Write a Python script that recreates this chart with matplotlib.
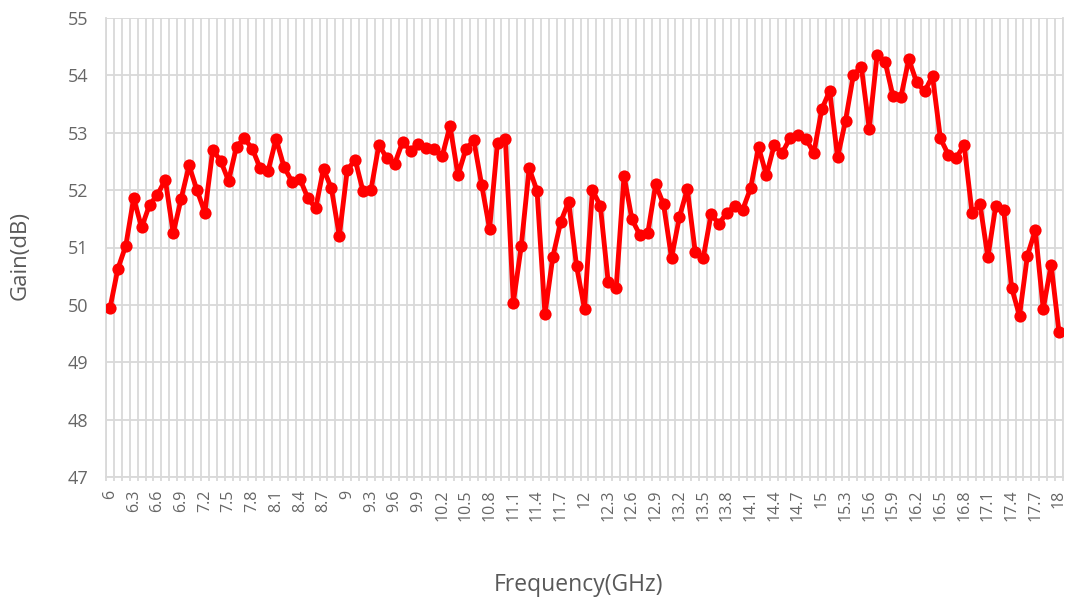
import numpy as np
import matplotlib
matplotlib.use("Agg")
import matplotlib.pyplot as plt

freqs = [round(6.0 + 0.1 * k, 1) for k in range(121)]
gains = [
    49.94, 50.63, 51.03, 51.86, 51.35, 51.74, 51.92, 52.18, 51.25, 51.85,
    52.43, 52.00, 51.61, 52.70, 52.51, 52.16, 52.76, 52.90, 52.72, 52.38,
    52.34, 52.89, 52.41, 52.15, 52.20, 51.87, 51.68, 52.37, 52.03, 51.20,
    52.35, 52.53, 51.98, 52.00, 52.79, 52.56, 52.46, 52.84, 52.69, 52.80,
    52.74, 52.72, 52.59, 53.12, 52.26, 52.71, 52.87, 52.09, 51.32, 52.83,
    52.89, 50.04, 51.02, 52.38, 51.99, 49.84, 50.84, 51.45, 51.80, 50.67,
    49.93, 52.00, 51.73, 50.39, 50.29, 52.25, 51.49, 51.22, 51.25, 52.10,
    51.75, 50.82, 51.53, 52.02, 50.92, 50.81, 51.58, 51.41, 51.61, 51.72,
    51.66, 52.03, 52.75, 52.26, 52.79, 52.65, 52.91, 52.96, 52.89, 52.65,
    53.41, 53.73, 52.57, 53.21, 54.01, 54.15, 53.07, 54.36, 54.24, 53.64,
    53.62, 54.28, 53.88, 53.72, 53.99, 52.90, 52.62, 52.56, 52.79, 51.60,
    51.76, 50.83, 51.73, 51.66, 50.30, 49.81, 50.86, 51.30, 49.93, 50.70,
    49.52,
]
y_ticks = [47, 48, 49, 50, 51, 52, 53, 54, 55]
label_step = 3

plt.rcParams['font.family'] = ['Open Sans', 'DejaVu Sans']

fig = plt.figure(figsize=(10.72, 6.02), dpi=100)
ax = fig.add_axes([106 / 1072, 1 - 477 / 602, (1063 - 106) / 1072, (477 - 18) / 602])

x = np.arange(len(freqs))
ax.plot(x, gains, color='#FF0000', linewidth=3.5, marker='o', markersize=8.8,
        markeredgewidth=0, zorder=3, solid_joinstyle='round')

ax.set_xlim(-0.5, len(freqs) - 0.5)
ax.set_ylim(y_ticks[0], y_ticks[-1])
ax.set_yticks(y_ticks)
ax.set_yticklabels([str(v) for v in y_ticks])

major = x[::label_step]
ax.set_xticks(major)
ax.set_xticklabels(['%g' % freqs[i] for i in major], rotation=90)
boundaries = np.arange(len(freqs) + 1) - 0.5
ax.set_xticks(boundaries, minor=True)

ax.grid(True, which='minor', axis='x', color='#d9d9d9', linewidth=1.3, zorder=0)
ax.grid(False, which='major', axis='x')
ax.grid(True, which='major', axis='y', color='#d9d9d9', linewidth=1.3, zorder=0)

for s in ['top']:
    ax.spines[s].set_visible(False)
for s in ['left', 'bottom', 'right']:
    ax.spines[s].set_color('#d9d9d9')
    ax.spines[s].set_linewidth(1.3)

ax.tick_params(axis='y', length=0, pad=13, labelsize=13, labelcolor='#666666')
ax.tick_params(axis='x', which='major', length=0, pad=9,
               labelsize=11.5, labelcolor='#666666')
ax.tick_params(axis='x', which='minor', length=3, width=1.3, color='#d9d9d9')

fig.text(20 / 1072, 1 - 255 / 602, 'Gain(dB)', rotation=90, ha='center', va='center',
         fontsize=16, color='#595959')
fig.text(578 / 1072, 1 - 585 / 602, 'Frequency(GHz)', ha='center', va='center',
         fontsize=16.5, color='#595959')

fig.savefig('out.png', dpi=100)
